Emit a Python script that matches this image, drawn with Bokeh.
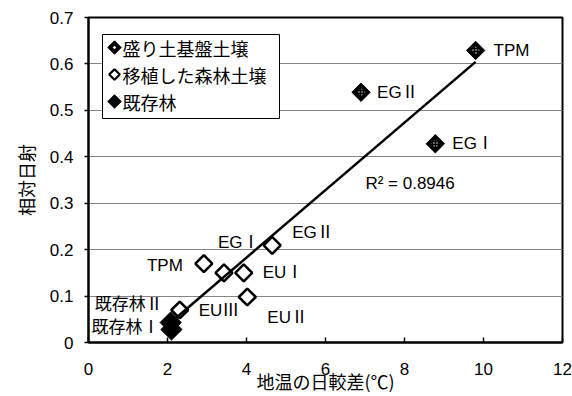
import numpy as np
from bokeh.plotting import figure
from bokeh.models import Range1d, FixedTicker, ColumnDataSource, Label
from bokeh.core.properties import value
from bokeh.embed import file_html
from bokeh.resources import INLINE

# 盛り土基盤土壌
mound_names = ["TPM", "EGⅡ", "EGⅠ"]
mound_x = [9.80, 6.90, 8.78]
mound_y = [0.629, 0.539, 0.428]

# 移植した森林土壌
trans_names = ["TPM", "EGⅠ", "EUⅠ", "EGⅡ", "EUⅡ", "EUⅢ"]
trans_x = [2.92, 3.43, 3.93, 4.65, 4.02, 2.31]
trans_y = [0.170, 0.150, 0.150, 0.209, 0.098, 0.070]

# 既存林
exist_names = ["既存林Ⅱ", "既存林Ⅰ"]
exist_x = [2.08, 2.10]
exist_y = [0.043, 0.028]

x_ticks = [0, 2, 4, 6, 8, 10, 12]
y_ticks = [0, 0.1, 0.2, 0.3, 0.4, 0.5, 0.6, 0.7]
y_tick_labels = ["0", "0.1", "0.2", "0.3", "0.4", "0.5", "0.6", "0.7"]
legend_labels = ["盛り土基盤土壌", "移植した森林土壌", "既存林"]
r2_text = "R² = 0.8946"

# label placement (screen px offsets from each point)
mound_dx, mound_dy = [18, 16, 17], [0, 0, 0]
trans_dx, trans_dy = [-21, -6, 19, 20, 20, 19], [2, -30, 0, -13, 20, 0]
trans_align = ["right", "left", "left", "left", "left", "left"]
exist_dx, exist_dy = [-8, -12], [-20, -4]

# canvas geometry
W, H = 572, 396
FL, FR, FT, FB = 88, 562, 17, 342          # frame edges in px
X0, X1, Y0, Y1 = 0, 12, 0, 0.7


def px_x(px):
    return X0 + (px - FL) / (FR - FL) * (X1 - X0)


def px_y(py):
    return Y0 + (FB - py) / (FB - FT) * (Y1 - Y0)


LAT = "Liberation Sans"
JP = "Noto Sans CJK JP"
MIX = "Liberation Sans, Noto Sans CJK JP"
ROT = np.pi / 4

p = figure(width=W, height=H, x_range=Range1d(X0, X1), y_range=Range1d(Y0, Y1),
           output_backend="svg", toolbar_location=None,
           min_border_left=FL, min_border_right=W - FR, min_border_top=FT, min_border_bottom=H - FB)
p.background_fill_color = "white"
p.border_fill_color = "white"
p.outline_line_color = "black"
p.outline_line_width = 2

p.xgrid.grid_line_color = None
p.ygrid.grid_line_color = "#858585"
p.ygrid.grid_line_width = 1

p.xaxis.ticker = FixedTicker(ticks=x_ticks)
p.yaxis.ticker = FixedTicker(ticks=y_ticks)
p.yaxis.major_label_overrides = {t: s for t, s in zip(y_ticks, y_tick_labels)}

for ax in (p.xaxis[0], p.yaxis[0]):
    ax.axis_line_color = "black"
    ax.axis_line_width = 2
    ax.major_tick_line_color = "black"
    ax.major_tick_line_width = 1.5
    ax.minor_tick_line_color = None
    ax.major_label_text_font = LAT
    ax.major_label_text_font_size = "17px"
    ax.major_label_text_color = "black"
    ax.axis_label_text_font = JP
    ax.axis_label_text_font_size = "18px"
    ax.axis_label_text_font_style = "normal"
    ax.axis_label_text_color = "black"

p.xaxis.major_tick_in = 5
p.xaxis.major_tick_out = 0
p.xaxis.major_label_standoff = 20
p.xaxis.axis_label = "地温の日較差(℃)"
p.xaxis.axis_label_standoff = -10

p.yaxis.major_tick_in = 0
p.yaxis.major_tick_out = 4
p.yaxis.major_label_standoff = 11
p.yaxis.axis_label = "相対日射"
p.yaxis.axis_label_standoff = 8

# legend box (drawn first so it sits above the grid)
LG_L, LG_R, LG_T, LG_B = 102, 279, 34, 118
p.quad(left=px_x(LG_L), right=px_x(LG_R), top=px_y(LG_T), bottom=px_y(LG_B),
       fill_color="white", line_color="black", line_width=1)

# markers: squares turned 45° give true diamonds
src_m = ColumnDataSource(dict(x=mound_x, y=mound_y, name=mound_names, dx=mound_dx, dy=mound_dy))
src_t = ColumnDataSource(dict(x=trans_x, y=trans_y, name=trans_names, dx=trans_dx, dy=trans_dy,
                              align=trans_align))
src_e = ColumnDataSource(dict(x=exist_x, y=exist_y, name=exist_names, dx=exist_dx, dy=exist_dy))

p.scatter("x", "y", source=src_m, marker="square", size=13, angle=ROT,
          fill_color="black", line_color="black", line_width=1)
p.scatter("x", "y", source=src_m, marker="square", size=6, angle=ROT,
          fill_color="black", line_color=None,
          hatch_pattern=".", hatch_color="white", hatch_scale=3, hatch_weight=1)
p.scatter("x", "y", source=src_t, marker="square", size=12, angle=ROT,
          fill_color="white", line_color="black", line_width=2.5)
p.scatter("x", "y", source=src_e, marker="square", size=15, angle=ROT,
          fill_color="black", line_color="black", line_width=1)

# linear trend over all plots
all_x = np.array(mound_x + trans_x + exist_x)
all_y = np.array(mound_y + trans_y + exist_y)
slope, intercept = np.polyfit(all_x, all_y, 1)
lx = np.array([all_x.min(), all_x.max()])
p.line(lx, slope * lx + intercept, line_color="black", line_width=2.5)

# point labels
p.text("x", "y", text="name", source=src_m, x_offset="dx", y_offset="dy",
       text_font=value(MIX), text_font_size="17px", text_baseline="middle", text_align="left",
       text_color="black")
p.text("x", "y", text="name", source=src_t, x_offset="dx", y_offset="dy",
       text_font=value(MIX), text_font_size="17px", text_baseline="middle", text_align="align",
       text_color="black")
p.text("x", "y", text="name", source=src_e, x_offset="dx", y_offset="dy",
       text_font=value(JP), text_font_size="17px", text_baseline="middle", text_align="right",
       text_color="black")

p.add_layout(Label(x=7.01, y=0.343, text=r2_text, text_font=LAT, text_font_size="17px",
                   text_baseline="middle", text_color="black"))

# legend keys and labels
row_py = [47, 74, 101]
key_x = [px_x(114)] * 3
key_y = [px_y(v) for v in row_py]
p.scatter(key_x[:1], key_y[:1], marker="square", size=9.5, angle=ROT,
          fill_color="black", line_color="black", line_width=1)
p.scatter(key_x[:1], key_y[:1], marker="square", size=2.5, angle=ROT,
          fill_color="white", line_color=None)
p.scatter(key_x[1:2], key_y[1:2], marker="square", size=7.5, angle=ROT,
          fill_color="white", line_color="black", line_width=2.2)
p.scatter(key_x[2:], key_y[2:], marker="square", size=9.5, angle=ROT,
          fill_color="black", line_color="black", line_width=1)
p.text([px_x(122)] * 3, key_y, text=legend_labels, text_font=value(JP), text_font_size="18px",
       text_baseline="middle", text_align="left", text_color="black")

open("out.html", "w").write(file_html(p, INLINE))
